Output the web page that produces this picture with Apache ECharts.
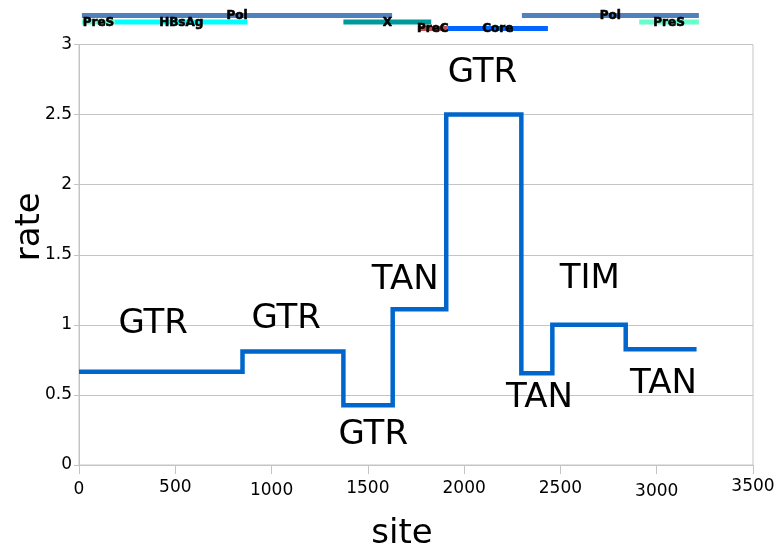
<!DOCTYPE html>
<html>
<head>
<meta charset="utf-8">
<script src="https://cdn.jsdelivr.net/npm/echarts@6/dist/echarts.min.js"></script>
<style>html,body{margin:0;padding:0;background:#fff}#c{width:780px;height:550px}</style>
</head>
<body>
<div id="c"></div>
<script>
// ---- data ----
const segmentStarts = [0, 849, 1373, 1629, 1907, 2297, 2458, 2839];
const lastSite = 3207;
const rates = [0.666, 0.809, 0.426, 1.112, 2.5, 0.655, 1.0, 0.826];

const annotationTexts = ['GTR', 'GTR', 'GTR', 'TAN', 'GTR', 'TAN', 'TIM', 'TAN'];
const annotationSites = [385, 1076, 1528, 1694, 2095, 2391, 2652, 3035];
const annotationRates = [1.006, 1.038, 0.214, 1.32, 2.796, 0.478, 1.327, 0.578];

const geneNames = ['Pol', 'Pol', 'PreS', 'HBsAg', 'X', 'PreS', 'PreC', 'Core'];
const geneStarts = [15, 2300, 15, 187, 1373, 2909, 1760, 1915];
const geneEnds = [1626, 3219, 187, 875, 1829, 3219, 1915, 2435];
const geneRows = [1, 1, 2, 2, 2, 2, 3, 3];

const xTickValues = [0, 500, 1000, 1500, 2000, 2500, 3000, 3500];
const yTickValues = [0, 0.5, 1, 1.5, 2, 2.5, 3];

// ---- styles ----
const geneColors = ['#4f81bd', '#4f81bd', '#66ffcc', '#00ffff', '#009999', '#66ffcc', '#c0504d', '#0066ff'];
const xLabelOffsets = [3, 1, 4, 2, 2, 2, 5, 0];
const FONT = 'DejaVu Sans';
const GRAY = '#c4c4c4';

// ---- build ----
const stepData = segmentStarts.map((s, i) => [s, rates[i]]);
stepData.push([lastSite, rates[rates.length - 1]]);
const annData = annotationSites.map((s, i) => [s, annotationRates[i]]);
const geneData = geneNames.map((n, i) => [geneStarts[i], geneEnds[i], geneRows[i]]);

const rich = {};
xTickValues.forEach((v, i) => {
  rich['o' + i] = { fontSize: 17, fontFamily: FONT, color: '#000', padding: [xLabelOffsets[i], 0, 0, 0] };
});

const chart = echarts.init(document.getElementById('c'), null, { renderer: 'canvas' });
chart.setOption({
  animation: false,
  backgroundColor: '#fff',
  grid: [
    { left: 79, right: 27, top: 44.5, bottom: 85, show: true, borderColor: GRAY, borderWidth: 1,
      containLabel: false, outerBoundsMode: 'none' },
    { left: 79, right: 27, top: 9, height: 26, containLabel: false, outerBoundsMode: 'none' }
  ],
  xAxis: [
    {
      type: 'value', gridIndex: 0, min: 0, max: 3500, interval: 500,
      name: 'site', nameLocation: 'middle', nameGap: 52, nameMoveOverlap: false,
      nameTextStyle: { fontSize: 34, fontFamily: FONT, color: '#000', padding: [0, 28, 0, 0] },
      axisLine: { show: true, lineStyle: { color: GRAY, width: 1 } },
      axisTick: { show: true, length: 9, lineStyle: { color: GRAY } },
      splitLine: { show: false },
      axisLabel: {
        margin: 13, fontSize: 17, fontFamily: FONT, color: '#000',
        formatter: v => { const i = xTickValues.indexOf(v); return '{o' + i + '|' + v + '}'; },
        rich: rich
      }
    },
    { type: 'value', gridIndex: 1, min: 0, max: 3500, show: false }
  ],
  yAxis: [
    {
      type: 'value', gridIndex: 0, min: 0, max: 3, interval: 0.5,
      name: 'rate', nameLocation: 'middle', nameGap: 32, nameRotate: 90, nameMoveOverlap: false,
      nameTextStyle: { fontSize: 34, fontFamily: FONT, color: '#000', padding: [0, 0, 0, 56] },
      axisLine: { show: true, lineStyle: { color: GRAY, width: 1 } },
      axisTick: { show: true, length: 5, lineStyle: { color: GRAY } },
      splitLine: { show: true, lineStyle: { color: GRAY, width: 1 } },
      axisLabel: { margin: 7, fontSize: 17, fontFamily: FONT, color: '#000', padding: [6, 0, 0, 0] }
    },
    { type: 'value', gridIndex: 1, min: 0, max: 4, inverse: true, show: false }
  ],
  series: [
    {
      type: 'line', xAxisIndex: 0, yAxisIndex: 0, step: 'end', data: stepData,
      symbol: 'none', lineStyle: { color: '#0066cc', width: 4.5, join: 'miter', cap: 'butt' },
      silent: true
    },
    {
      type: 'custom', xAxisIndex: 0, yAxisIndex: 0, data: annData, silent: true, clip: false,
      renderItem: (params, api) => {
        const p = api.coord([api.value(0), api.value(1)]);
        return {
          type: 'text', z2: 50,
          style: { text: annotationTexts[params.dataIndex], x: p[0], y: p[1],
                   align: 'center', verticalAlign: 'middle',
                   font: '34px "DejaVu Sans"', fill: '#000' }
        };
      }
    },
    {
      type: 'custom', xAxisIndex: 1, yAxisIndex: 1, data: geneData, silent: true, clip: false,
      renderItem: (params, api) => {
        const s = api.coord([api.value(0), api.value(2)]);
        const e = api.coord([api.value(1), api.value(2)]);
        const h = 5;
        return {
          type: 'group',
          children: [
            { type: 'rect', shape: { x: s[0], y: s[1] - h / 2, width: e[0] - s[0], height: h },
              style: { fill: geneColors[params.dataIndex] } },
            { type: 'text', z2: 100,
              style: { text: geneNames[params.dataIndex], x: (s[0] + e[0]) / 2, y: s[1] + 0.5,
                       align: 'center', verticalAlign: 'middle',
                       font: 'bold 12px "DejaVu Sans"', fill: '#000',
                       stroke: '#000', lineWidth: 0.6 } }
          ]
        };
      }
    }
  ]
});
</script>
</body>
</html>
